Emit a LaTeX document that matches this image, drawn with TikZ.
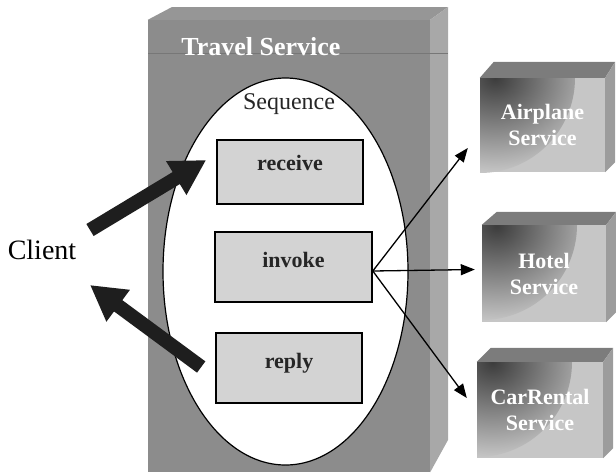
\documentclass[tikz,border=0pt]{standalone}
\usepackage{fontspec}
\setmainfont{Liberation Serif}
\usetikzlibrary{arrows.meta,shapes.geometric,calc}

\definecolor{travelfront}{HTML}{8C8C8C}
\definecolor{traveltop}{HTML}{969696}
\definecolor{travelside}{HTML}{A8A8A8}
\definecolor{actfill}{HTML}{D3D3D3}
\definecolor{srvfront}{HTML}{C6C6C6}
\definecolor{srvdark}{HTML}{3C3C3C}
\definecolor{srvtop}{HTML}{7C7C7C}
\definecolor{srvside}{HTML}{9C9C9C}
\definecolor{arrowink}{HTML}{1E1E1E}

\tikzset{
  actbox/.style={draw=black, line width=1.6pt, fill=actfill, inner sep=0pt},
  acttext/.style={font=\fontsize{22}{24}\selectfont\bfseries, text=black!85},
  srvbox/.style={fill=srvfront, inner sep=0pt, align=center, text=white,
    font=\fontsize{22}{26}\selectfont\bfseries,
    path picture={\shade[inner color=srvdark, outer color=srvfront]
      (path picture bounding box.north west) circle (95pt);}},
  srvtopface/.style={fill=srvtop},
  srvsideface/.style={fill=srvside},
  fatarrow/.style={draw=arrowink, line width=14pt,
    -{Triangle[length=35pt,width=37pt]}},
  callarrow/.style={draw=black, line width=1.3pt,
    -{Triangle[length=14pt,width=11pt]}},
}

\begin{document}
\begin{tikzpicture}[x=1pt,y=-1pt]
\useasboundingbox (0,0) rectangle (616,475);

% Travel Service block: front, top and side faces
\node[fill=travelfront, minimum width=282pt, minimum height=452pt, inner sep=0pt]
  (travel) at (289,246) {};
\fill[traveltop] (travel.north west) -- (172,7) -- (448,7) -- (travel.north east) -- cycle;
\fill[travelside] (travel.north east) -- (448,7) -- (448,440) -- (travel.south east) -- cycle;
\draw[travelfront!85!black, line width=0.6pt] (148,53) -- (448,53);
\node[text=white, font=\fontsize{26}{30}\selectfont\bfseries] (title) at (261,47) {Travel Service};

% Sequence region
\node[ellipse, draw=black, line width=1.2pt, fill=white, inner sep=0pt,
  minimum width=245pt, minimum height=387pt] (seq) at (285.5,271.5) {};
\node[font=\fontsize{24}{28}\selectfont, text=black!85] (seqlabel) at (289,104) {Sequence};

% Activities
\node[actbox, minimum width=146pt, minimum height=64pt,
  label={[acttext, yshift=9pt]center:receive}] (receive) at (290,172) {};
\node[actbox, minimum width=157pt, minimum height=70pt,
  label={[acttext, yshift=7pt]center:invoke}] (invoke) at (293.5,267) {};
\node[actbox, minimum width=146pt, minimum height=70pt,
  label={[acttext, yshift=5pt]center:reply}] (reply) at (289,368) {};

% Partner services
\node[srvbox, minimum width=125pt, minimum height=94pt] (air) at (542.5,125) {Airplane\\Service};
\fill[srvtopface] (air.north west) -- ++(14,-16) -- ($(air.north east)+(10,-16)$) -- (air.north east) -- cycle;
\fill[srvsideface] (air.north east) -- ++(10,-16) -- ($(air.south east)+(10,-10)$) -- (air.south east) -- cycle;

\node[srvbox, minimum width=124pt, minimum height=97pt] (hotel) at (544,273.5) {Hotel\\Service};
\fill[srvtopface] (hotel.north west) -- ++(15,-13) -- ($(hotel.north east)+(10,-13)$) -- (hotel.north east) -- cycle;
\fill[srvsideface] (hotel.north east) -- ++(10,-13) -- ($(hotel.south east)+(10,-10)$) -- (hotel.south east) -- cycle;

\node[srvbox, minimum width=126pt, minimum height=96pt] (car) at (540,410) {CarRental\\Service};
\fill[srvtopface] (car.north west) -- ++(14,-14) -- ($(car.north east)+(10,-14)$) -- (car.north east) -- cycle;
\fill[srvsideface] (car.north east) -- ++(10,-14) -- ($(car.south east)+(10,-10)$) -- (car.south east) -- cycle;

% Client and its request / response
\node[font=\fontsize{28}{30}\selectfont] (client) at (42,250) {Client};
\coordinate (reqtail) at (90,230);
\coordinate (resptip) at (90,285);
\draw[fatarrow] (reqtail) -- ($(receive.west)+(-10,-12)$);
\draw[fatarrow] ($(reply.west)+(-14,-1)$) -- (resptip);

% Calls from invoke to the partner services
\coordinate (calls) at ($(invoke.east)+(0,4)$);
\draw[callarrow] (calls) -- ($(air.west)+(-12,23)$);
\draw[callarrow] (calls) -- ($(hotel.west)+(-7,-4)$);
\draw[callarrow] (calls) -- ($(car.west)+(-10,-12)$);
\end{tikzpicture}
\end{document}
